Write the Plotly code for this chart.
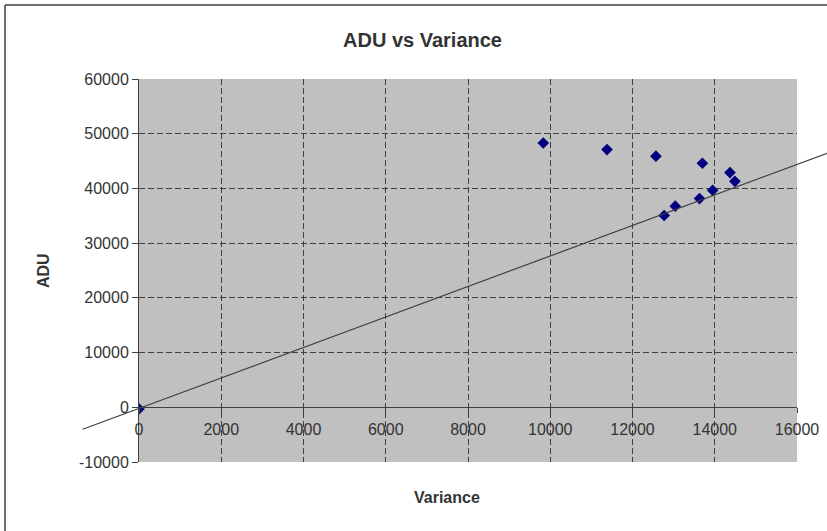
import plotly.graph_objects as go

# ---- data ----
variance = [0, 9830, 11380, 12570, 12770, 13040, 13630, 13700, 13950, 14370, 14490]
adu = [-300, 48300, 47100, 45900, 35050, 36750, 38150, 44600, 39650, 42900, 41300]
trend_x = [-1370, 17000]
trend_y = [-4020, 47160]
x_ticks = [0, 2000, 4000, 6000, 8000, 10000, 12000, 14000, 16000]
y_ticks = [-10000, 0, 10000, 20000, 30000, 40000, 50000, 60000]
x_tick_labels = ["0", "2000", "4000", "6000", "8000", "10000", "12000", "14000", "16000"]
y_tick_labels = ["-10000", "0", "10000", "20000", "30000", "40000", "50000", "60000"]
x_range = [0, 16000]
y_range = [-10000, 60000]

title_text = "ADU vs Variance"
x_title = "Variance"
y_title = "ADU"

# ---- layout geometry ----
W, H = 827, 531


def px_x(p):
    return p / W


def px_y(p):
    return 1 - p / H


xdom = [px_x(139), px_x(797)]
ydom = [px_y(462), px_y(79)]


def full_range(r, d):
    span = (r[1] - r[0]) / (d[1] - d[0])
    lo = r[0] - d[0] * span
    return [lo, lo + span]


zero_pos = ydom[0] + (0 - y_range[0]) / (y_range[1] - y_range[0]) * (ydom[1] - ydom[0])

DARK = "#404040"
TXT = "#333333"
FONT = "Liberation Sans, Arial, sans-serif"
GRID_DASH = "6px,3px"

fig = go.Figure()
fig.add_trace(go.Scatter(
    x=variance, y=adu, mode="markers",
    marker=dict(symbol="diamond", size=9, color="#000080", line=dict(width=0)),
    xaxis="x", yaxis="y", showlegend=False, hoverinfo="skip",
))
fig.add_trace(go.Scatter(
    x=trend_x, y=trend_y, mode="lines",
    line=dict(color=DARK, width=1.2),
    xaxis="x2", yaxis="y2", showlegend=False, hoverinfo="skip",
))

bx, by = px_x(5), px_y(5)
fig.update_layout(
    width=W, height=H,
    autosize=False,
    margin=dict(l=0, r=0, t=0, b=0, pad=0),
    paper_bgcolor="white",
    plot_bgcolor="rgba(0,0,0,0)",
    font=dict(family=FONT, color=TXT, size=16),
    xaxis=dict(
        domain=xdom, range=x_range, tickvals=x_ticks, ticktext=x_tick_labels,
        anchor="free", position=zero_pos, fixedrange=True, automargin=False,
        ticklabeloverflow="allow", ticklabelstandoff=3,
        showline=True, linecolor=DARK, linewidth=1,
        ticks="outside", ticklen=5, tickcolor=DARK,
        showgrid=True, gridcolor=DARK, griddash=GRID_DASH, gridwidth=1,
        zeroline=False, tickfont=dict(size=16, color=TXT, family=FONT),
    ),
    yaxis=dict(
        domain=ydom, range=y_range, tickvals=y_ticks, ticktext=y_tick_labels, anchor="x",
        fixedrange=True, automargin=False, ticklabeloverflow="allow",
        showline=True, linecolor=DARK, linewidth=1,
        ticks="outside", ticklen=6, tickcolor=DARK,
        showgrid=True, gridcolor=DARK, griddash=GRID_DASH, gridwidth=1,
        zeroline=False, tickfont=dict(size=16, color=TXT, family=FONT),
    ),
    xaxis2=dict(domain=[0, 1], range=full_range(x_range, xdom), anchor="y2", visible=False,
                fixedrange=True, automargin=False),
    yaxis2=dict(domain=[0, 1], range=full_range(y_range, ydom), anchor="x2", visible=False,
                fixedrange=True, automargin=False),
    shapes=[
        dict(type="rect", xref="x domain", yref="y domain", x0=0, x1=1, y0=0, y1=1,
             fillcolor="#C0C0C0", line=dict(width=0), layer="below"),
        dict(type="line", xref="paper", yref="paper", x0=bx, x1=1, y0=by, y1=by,
             line=dict(color=DARK, width=1.5), layer="above"),
        dict(type="line", xref="paper", yref="paper", x0=bx, x1=bx, y0=0, y1=by,
             line=dict(color=DARK, width=1.5), layer="above"),
    ],
    annotations=[
        dict(text=title_text, xref="paper", yref="paper", x=px_x(422), y=px_y(40),
             xanchor="center", yanchor="middle", showarrow=False,
             font=dict(size=20, color=TXT, family=FONT, weight="bold")),
        dict(text=x_title, xref="paper", yref="paper", x=px_x(447), y=px_y(497),
             xanchor="center", yanchor="middle", showarrow=False,
             font=dict(size=16, color=TXT, family=FONT, weight="bold")),
        dict(text=y_title, xref="paper", yref="paper", x=px_x(43), y=px_y(271),
             xanchor="center", yanchor="middle", showarrow=False, textangle=-90,
             font=dict(size=16, color=TXT, family=FONT, weight="bold")),
    ],
)

fig.write_html(
    "out.html",
    config={"displayModeBar": False, "staticPlot": True},
    post_script="document.body.style.margin='0';document.body.style.overflow='hidden';",
)
